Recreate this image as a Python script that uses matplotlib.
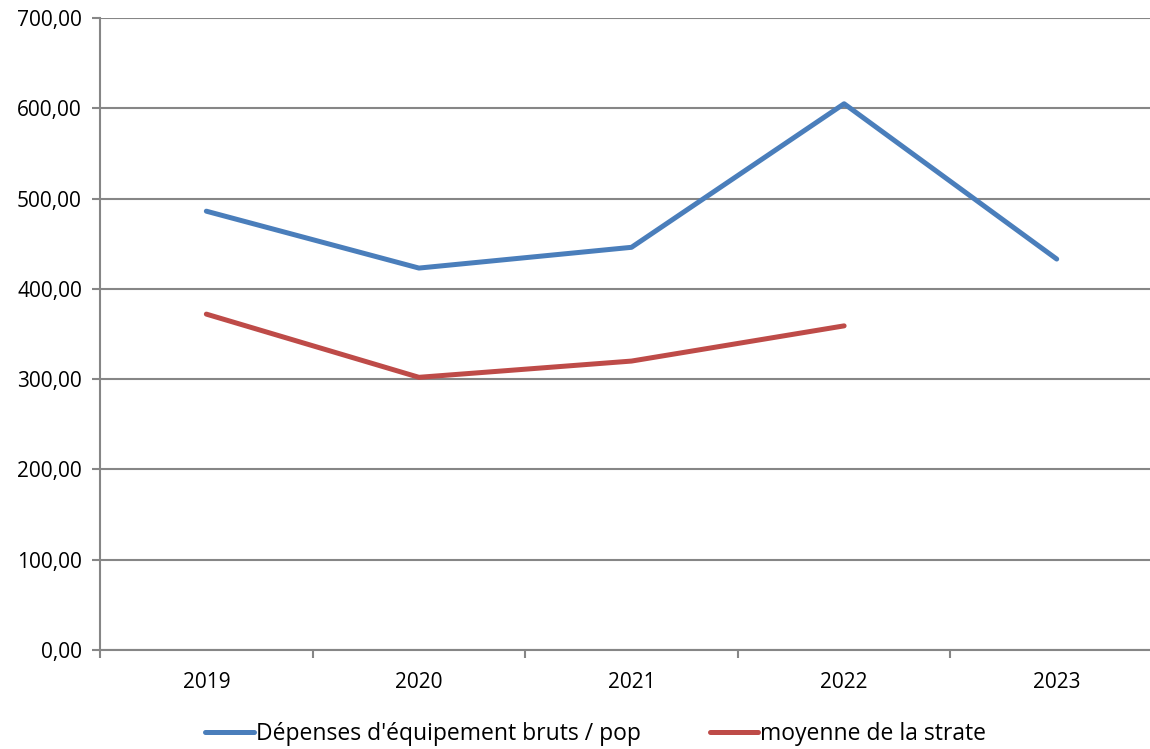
import matplotlib.pyplot as plt
import numpy as np

years = ['2019', '2020', '2021', '2022', '2023']
depenses = [486, 423, 446, 605, 433]
moyenne = [372, 302, 320, 359]

plt.rcParams['font.family'] = ['Open Sans', 'DejaVu Sans']

fig = plt.figure(figsize=(11.5, 7.49), dpi=100)
ax = fig.add_axes([0.087, 0.1322, 0.9243, 0.8438])

x = np.arange(len(years))
ax.plot(x, depenses, color='#4A7EBB', lw=3.6, label="Dépenses d'équipement bruts / pop", solid_capstyle='round')
ax.plot(x[:len(moyenne)], moyenne, color='#BE4B48', lw=3.6, label='moyenne de la strate', solid_capstyle='round')

ax.set_xlim(-0.5, len(years) - 0.5)
ax.set_ylim(0, 700)
ax.set_yticks(range(0, 701, 100))
ax.set_yticklabels([f'{v},00' for v in range(0, 701, 100)])
ax.set_xticks(x)
ax.set_xticklabels(years)
ax.set_xticks(np.arange(-0.5, len(years)), minor=True)
ax.tick_params(axis='x', which='major', length=0, pad=16)
ax.tick_params(axis='x', which='minor', length=6, width=1.5, color='#868686')
ax.tick_params(axis='y', length=6, width=1.5, color='#868686', pad=7)
ax.tick_params(labelsize=15)

ax.grid(axis='y', color='#868686', lw=1.5)
ax.set_axisbelow(True)
for s in ['top', 'right']:
    ax.spines[s].set_visible(False)
for s in ['left', 'bottom']:
    ax.spines[s].set_color('#868686')
    ax.spines[s].set_linewidth(1.5)

fig.legend(loc='lower center', bbox_to_anchor=(0.518, -0.024), ncol=2, frameon=False,
           fontsize=16.5, handlelength=2.1, handletextpad=0.1, columnspacing=3.0)

plt.savefig('out.png', dpi=100)
